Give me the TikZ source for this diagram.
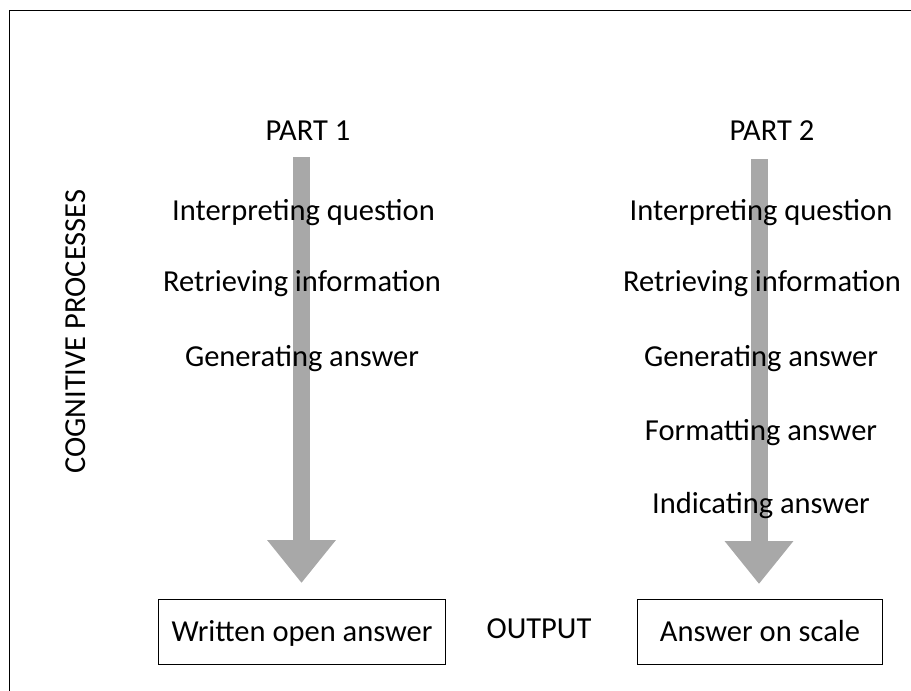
\documentclass[tikz,border=0pt]{standalone}
\usepackage{fontspec}
\setmainfont{Carlito}
\usetikzlibrary{arrows.meta}
\definecolor{arrowgrey}{RGB}{168,168,168}
\tikzset{
  lbl/.style={anchor=base, inner sep=0pt, font=\fontsize{30.5}{34}\selectfont},
  outbox/.style={draw=black, line width=0.9pt, inner sep=0pt, text height=20.5pt, text depth=0pt, font=\fontsize{30.5}{34}\selectfont},
  bigarrow/.style={draw=arrowgrey, line width=17pt, -{Triangle[width=66pt,length=43pt,fill=arrowgrey]}, shorten >=0pt},
  frameline/.style={draw=black, line width=0.9pt}
}
\begin{document}
\begin{tikzpicture}[x=1pt,y=-1pt]
\useasboundingbox (0,0) rectangle (911,691);
% frame (top and left edges visible)
\coordinate (fTR) at (911,10);
\coordinate (fTL) at (9.5,10);
\coordinate (fBL) at (9.5,691);
\draw[frameline] (fTR) -- (fTL) -- (fBL);

% arrows (behind text)
\coordinate (a1top) at (301.5,157);
\coordinate (a1tip) at (301.5,583);
\coordinate (a2top) at (759,159);
\coordinate (a2tip) at (759,584);
\draw[bigarrow] (a1top) -- (a1tip);
\draw[bigarrow] (a2top) -- (a2tip);

% headings
\node[lbl] (p1) at (308,140.5) {PART 1};
\node[lbl] (p2) at (772,140.5) {PART 2};

% left column
\node[lbl] (l1) at (303.5,220.5) {Interpreting question};
\node[lbl] (l2) at (302,291.5) {Retrieving information};
\node[lbl] (l3) at (302,366) {Generating answer};

% right column
\node[lbl] (r1) at (761,220.5) {Interpreting question};
\node[lbl] (r2) at (762,291.5) {Retrieving information};
\node[lbl] (r3) at (761,366) {Generating answer};
\node[lbl] (r4) at (761,440) {Formatting answer};
\node[lbl] (r5) at (761,513) {Indicating answer};

% side label
\node[lbl, rotate=90] (cog) at (85,331.7) {COGNITIVE PROCESSES};

% outputs
\node[outbox, minimum width=287.4pt, minimum height=64.7pt] (b1) at (302,631.7) {Written open answer};
\node[outbox, minimum width=244.6pt, minimum height=64.7pt] (b2) at (760,631.7) {Answer on scale};
\node[lbl] (out) at (539,638) {OUTPUT};
\end{tikzpicture}
\end{document}
